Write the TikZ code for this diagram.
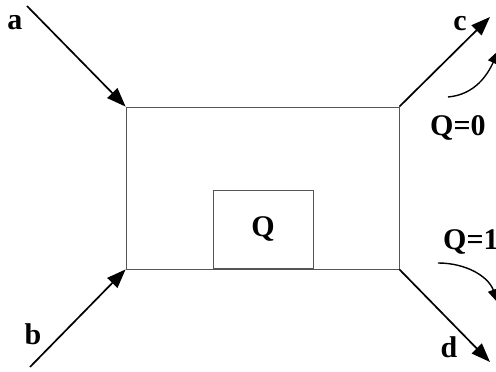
\documentclass[tikz,border=0pt]{standalone}
\usepackage{fontspec}
\setmainfont{Liberation Serif}
\usepackage{xcolor}
\definecolor{cLine}{HTML}{000000}
\definecolor{cFrame}{HTML}{555555}
\usepackage{tikz}
\usetikzlibrary{positioning,arrows.meta}
\tikzset{
  node-frame/.style={draw=cFrame,line width=0.8pt,inner sep=0pt},
  node-label/.style={font=\fontsize{30}{34}\selectfont\bfseries,inner sep=0pt},
  arrow/.style={-{Triangle[length=19pt,width=14pt]},line width=1.7pt,draw=cLine},
  arrow-turn/.style={-{Triangle[length=14pt,width=11pt]},line width=1.4pt,draw=cLine},
}
\begin{document}
\begin{tikzpicture}[x=1pt,y=1pt]
  \useasboundingbox (0,0) rectangle (496,372);
  % boxes
  \node[node-frame,minimum width=273pt,minimum height=162pt] (box) at (262.5,184) {};
  \node[node-frame,minimum width=100pt,minimum height=78pt] (inner) at (263,143) {};
  \node[node-label] (q) at (inner.center) {Q};
  % free ends
  \coordinate (a-in) at (27,366);
  \coordinate (b-in) at (30,5);
  \coordinate (c-out) at (490,355);
  \coordinate (d-out) at (490,10);
  \draw[arrow] (a-in) -- (box.north west);
  \draw[arrow] (b-in) -- (box.south west);
  \draw[arrow] (box.north east) -- (c-out);
  \draw[arrow] (box.south east) -- (d-out);
  \node[node-label] (a) at (15,349) {a};
  \node[node-label] (b) at (33,38) {b};
  \node[node-label] (c) at (460,348) {c};
  \node[node-label] (d) at (449,25) {d};
  % switch labels
  \node[node-label,anchor=west] (q0) at (430,244) {Q=0};
  \node[node-label,anchor=west] (q1) at (443,130) {Q=1};
  \coordinate (c-turn-a) at (448,275);
  \coordinate (c-turn-b) at (499,322);
  \coordinate (d-turn-a) at (438,109);
  \coordinate (d-turn-b) at (498,69);
  \draw[arrow-turn] (c-turn-a) to[out=5,in=-115] (c-turn-b);
  \draw[arrow-turn] (d-turn-a) to[out=0,in=110] (d-turn-b);
\end{tikzpicture}
\end{document}
